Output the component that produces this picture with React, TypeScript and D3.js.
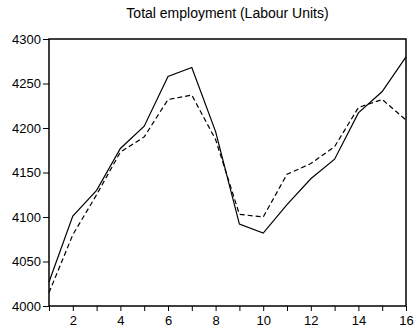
import * as React from 'react';
import { useEffect, useRef } from 'react';
import * as d3 from 'd3';

const periods = [1, 2, 3, 4, 5, 6, 7, 8, 9, 10, 11, 12, 13, 14, 15, 16];
const actual = [4027, 4101, 4130, 4177, 4202, 4258, 4268, 4196, 4092, 4082, 4114, 4143, 4165, 4217, 4241, 4280];
const fitted = [4015, 4080, 4125, 4173, 4190, 4232, 4237, 4187, 4103, 4100, 4148, 4160, 4179, 4223, 4232, 4209];
const yTicks = [4000, 4050, 4100, 4150, 4200, 4250, 4300];
const xLabels = [2, 4, 6, 8, 10, 12, 14, 16];

const W = 414;
const H = 332;
const margin = { top: 39, right: 8, bottom: 26, left: 49 };

export default function App() {
  const ref = useRef<SVGSVGElement>(null);

  useEffect(() => {
    const svg = d3.select(ref.current);
    svg.selectAll('*').remove();

    const x = d3.scaleLinear().domain([1, 16]).range([margin.left, W - margin.right]);
    const y = d3.scaleLinear().domain([4000, 4300]).range([H - margin.bottom, margin.top]);

    svg.append('text')
      .attr('x', (margin.left + W - margin.right) / 2)
      .attr('y', 18)
      .attr('text-anchor', 'middle')
      .style('font-size', '14px')
      .text('Total employment (Labour Units)');

    // frame
    svg.append('rect')
      .attr('x', margin.left)
      .attr('y', margin.top)
      .attr('width', W - margin.right - margin.left)
      .attr('height', H - margin.bottom - margin.top)
      .attr('fill', 'none')
      .attr('stroke', '#000')
      .attr('stroke-width', 1.5);

    const yAxis = d3.axisLeft(y).tickValues(yTicks).tickSize(6).tickPadding(2).tickFormat(d3.format('d'));
    const gy = svg.append('g').attr('transform', `translate(${margin.left},0)`).call(yAxis);

    const xAxis = d3.axisBottom(x).tickValues(periods).tickSize(5).tickPadding(5)
      .tickFormat((d) => (xLabels.includes(d as number) ? String(d) : ''));
    const gx = svg.append('g').attr('transform', `translate(0,${H - margin.bottom})`).call(xAxis);

    [gx, gy].forEach((g) => {
      g.select('.domain').remove();
      g.selectAll('text').style('font-size', '13px').attr('fill', '#000');
      g.selectAll('line').attr('stroke', '#000');
    });

    const line = d3.line<number>()
      .x((_, i) => x(periods[i]))
      .y((d) => y(d));

    svg.append('path')
      .datum(actual)
      .attr('d', line)
      .attr('fill', 'none')
      .attr('stroke', '#000')
      .attr('stroke-width', 1.2);

    svg.append('path')
      .datum(fitted)
      .attr('d', line)
      .attr('fill', 'none')
      .attr('stroke', '#000')
      .attr('stroke-width', 1.2)
      .attr('stroke-dasharray', '5,3');
  }, []);

  return (
    <svg
      ref={ref}
      width={W}
      height={H}
      style={{ position: 'absolute', left: 0, top: 0, background: '#fff', fontFamily: '"Liberation Sans", Arial, sans-serif' }}
    />
  );
}
